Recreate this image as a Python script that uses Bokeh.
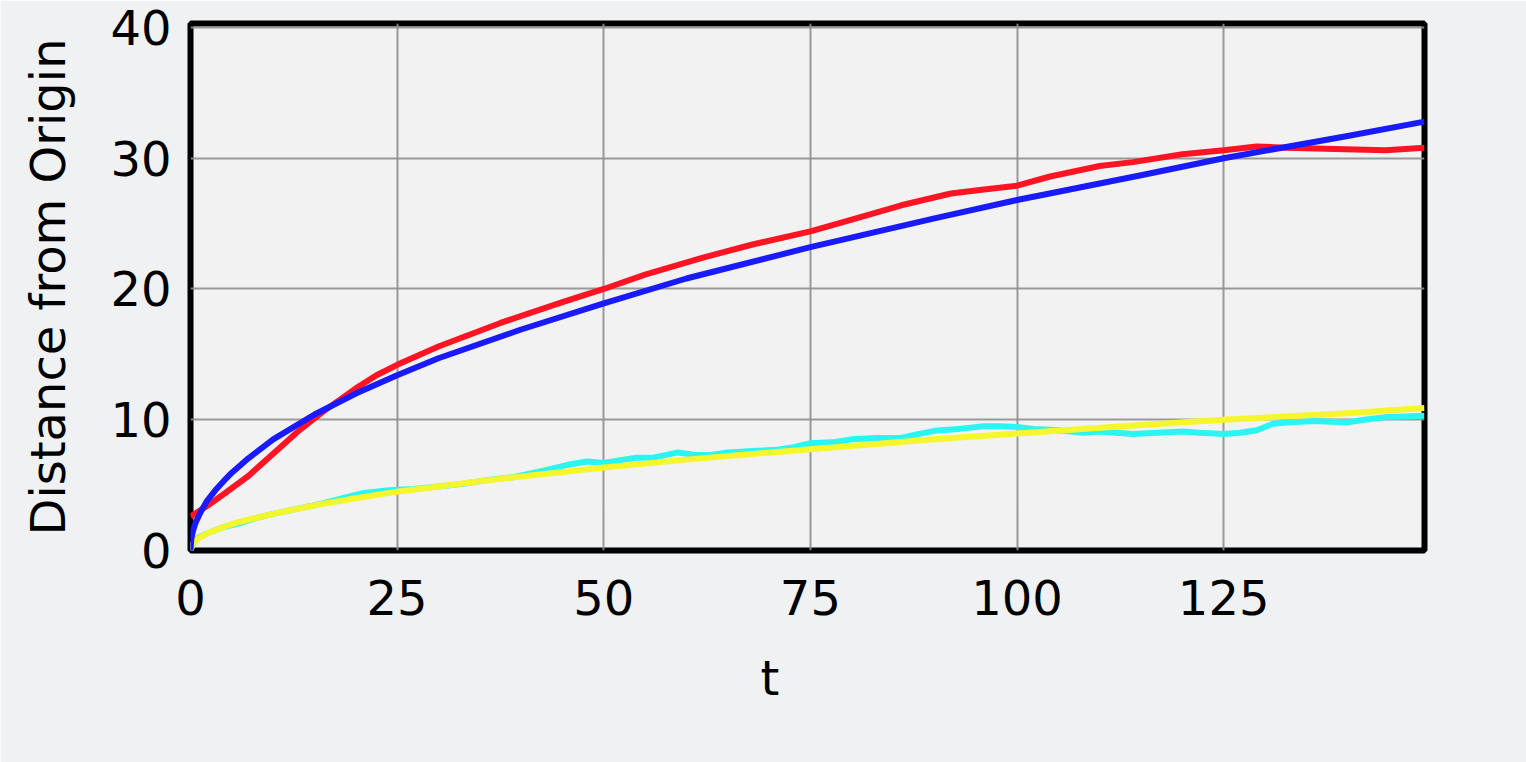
from bokeh.plotting import figure
from bokeh.models import Range1d, FixedTicker, Title
from bokeh.embed import file_html
from bokeh.resources import INLINE

# Red (measured) series
red_t = [0, 1, 2, 4, 7, 10, 13, 16, 20, 22.5, 25, 30, 37.5, 45, 50, 55, 62, 68, 75, 80, 86,
         92, 96, 100, 104, 110, 114, 120, 125, 129, 132.5, 138.5, 144.6, 149.3]
red_y = [2.6, 3.0, 3.4, 4.3, 5.7, 7.4, 9.1, 10.6, 12.4, 13.4, 14.2, 15.6, 17.4, 19.0, 20.0,
         21.1, 22.4, 23.4, 24.4, 25.3, 26.4, 27.3, 27.6, 27.9, 28.6, 29.4, 29.7, 30.3, 30.6,
         30.9, 30.8, 30.7, 30.6, 30.8]

# Blue (fit) series
blue_t = [0, 0.1, 0.3, 0.6, 1.2, 2, 3, 4, 5, 7, 10, 15, 20, 25, 30, 40, 50, 60, 75, 90,
          100, 115, 125, 140, 149.3]
blue_y = [0, 0.9, 1.5, 2.1, 2.9, 3.8, 4.6, 5.3, 5.95, 7.05, 8.5, 10.4, 12.0, 13.4, 14.7,
          16.9, 18.9, 20.8, 23.2, 25.4, 26.8, 28.7, 30.0, 31.7, 32.8]

# Cyan (measured) series
cyan_t = [0, 0.5, 1, 2, 4, 6, 8, 10, 13, 16, 19, 21, 24, 27, 30, 33, 36, 39, 42, 44, 46,
          48, 50, 52, 54, 56, 59, 61, 63, 65, 68, 71, 73, 75, 78, 80, 83, 86, 88, 90, 93,
          96, 98, 100, 102, 105, 108, 110, 112, 114, 117, 120, 122, 125, 127, 129, 131,
          133, 136, 138, 140, 142, 144.6, 147, 149.3]
cyan_y = [0, 0.8, 1.0, 1.3, 1.8, 2.1, 2.5, 2.8, 3.2, 3.6, 4.1, 4.4, 4.6, 4.7, 4.9, 5.1,
          5.4, 5.6, 6.0, 6.3, 6.6, 6.8, 6.7, 6.9, 7.1, 7.1, 7.5, 7.3, 7.3, 7.5, 7.6, 7.7,
          7.9, 8.2, 8.3, 8.5, 8.6, 8.6, 8.9, 9.15, 9.3, 9.5, 9.5, 9.45, 9.3, 9.2, 9.0, 9.1,
          9.0, 8.9, 9.0, 9.1, 9.0, 8.9, 9.0, 9.2, 9.7, 9.8, 9.9, 9.85, 9.8, 10.0, 10.2,
          10.25, 10.3]

# Yellow (fit) series
yellow_t = [0, 0.2, 0.5, 1, 2, 4, 6, 10, 15, 20, 25, 35, 50, 60, 75, 90, 100, 115, 125,
            140, 149.3]
yellow_y = [0, 0.4, 0.7, 0.95, 1.3, 1.8, 2.2, 2.8, 3.45, 4.0, 4.5, 5.3, 6.35, 6.95, 7.75,
            8.5, 8.95, 9.6, 10.0, 10.5, 10.9]

x_ticks = [0, 25, 50, 75, 100, 125]
y_ticks = [0, 10, 20, 30, 40]

FONT = "DejaVu Sans"

p = figure(width=1526, height=762, output_backend="svg", toolbar_location=None,
           x_range=Range1d(0, 149.3), y_range=Range1d(0, 40.3),
           min_border_left=190, min_border_right=102, min_border_top=23, min_border_bottom=212)

p.background_fill_color = "#f2f2f2"
p.border_fill_color = "#f0f1f3"
p.outline_line_color = "black"
p.outline_line_width = 6

for g in (p.xgrid, p.ygrid):
    g.grid_line_color = "#8f8f8f"
    g.grid_line_width = 2
    g.grid_line_alpha = 0.9

p.xaxis.ticker = FixedTicker(ticks=x_ticks)
p.yaxis.ticker = FixedTicker(ticks=y_ticks)

for ax in (p.xaxis, p.yaxis):
    ax.axis_line_color = None
    ax.major_tick_line_color = None
    ax.minor_tick_line_color = None
    ax.major_label_text_font = FONT
    ax.major_label_text_font_size = "48px"
    ax.major_label_text_color = "black"
    ax.axis_label_text_font = FONT
    ax.axis_label_text_font_size = "48px"
    ax.axis_label_text_font_style = "normal"
    ax.axis_label_text_color = "black"

p.xaxis.major_label_standoff = 23
p.yaxis.major_label_standoff = 13
p.yaxis.axis_label = "Distance from Origin"
p.yaxis.axis_label_standoff = 31

p.line(cyan_t, cyan_y, line_color="#2af5f2", line_width=6, line_join="round")
p.line(yellow_t, yellow_y, line_color="#f6f62c", line_width=6, line_join="round")
p.line(red_t, red_y, line_color="#ff1424", line_width=6, line_join="round")
p.line(blue_t, blue_y, line_color="#1a1aff", line_width=6, line_join="round")

p.add_layout(Title(text="t", align="left", offset=570, standoff=60,
                   text_font=FONT, text_font_size="48px", text_font_style="normal",
                   text_color="black"), "below")

open("out.html", "w").write(file_html(p, INLINE))
